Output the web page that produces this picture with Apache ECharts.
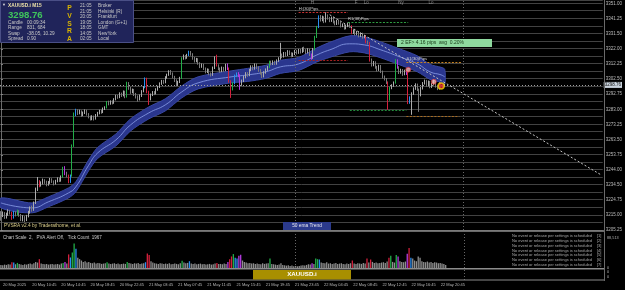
<!DOCTYPE html>
<html>
<head>
<meta charset="utf-8">
<script src="https://cdn.jsdelivr.net/npm/echarts@6/dist/echarts.min.js"></script>
<style>
  html, body { margin: 0; padding: 0; background: #000; }
  #chart { width: 625px; height: 290px; }
</style>
</head>
<body>
<div id="chart"></div>
<script>
// time axis labels, one every 16 bars (M15)
const timeLabels = ["20 May 2025", "20 May 10:45", "20 May 14:45", "20 May 18:45", "20 May 22:45",
  "21 May 03:45", "21 May 07:45", "21 May 11:45", "21 May 15:45", "21 May 19:45", "21 May 23:45",
  "22 May 04:45", "22 May 08:45", "22 May 12:45", "22 May 16:45", "22 May 20:45"];
const priceTicks = [3205.25, 3215.00, 3224.75, 3234.50, 3244.00, 3253.75, 3263.50, 3273.25,
  3283.00, 3292.75, 3302.50, 3312.25, 3322.00, 3331.50, 3341.25, 3351.00];
const lastPrice = 3298.76;

const open = [3216.0,3214.5,3216.0,3213.8,3215.2,3217.0,3216.4,3213.2,3216.8,3215.2,
  3217.6,3215.0,3212.8,3213.6,3211.9,3214.2,3216.8,3219.5,3218.4,3222.8,
  3231.5,3236.6,3234.0,3235.5,3237.2,3236.1,3234.6,3235.8,3237.9,3236.5,
  3235.2,3236.8,3238.4,3237.0,3239.6,3245.2,3241.6,3240.4,3236.4,3240.2,
  3259.6,3279.8,3282.4,3280.6,3281.8,3279.4,3280.8,3282.2,3280.0,3278.2,
  3276.8,3278.4,3277.0,3279.2,3280.6,3282.0,3281.2,3283.4,3284.2,3287.6,
  3286.8,3288.0,3287.2,3289.4,3291.6,3290.8,3293.2,3292.0,3294.4,3291.4,
  3300.0,3296.8,3294.2,3295.6,3292.8,3291.2,3289.4,3291.8,3294.6,3297.2,
  3302.8,3294.4,3289.8,3292.4,3294.0,3293.2,3295.8,3297.4,3299.6,3301.2,
  3300.4,3303.6,3305.2,3307.4,3306.2,3304.0,3301.8,3299.2,3300.6,3303.2,
  3315.8,3317.4,3316.2,3318.0,3320.0,3318.6,3316.0,3314.2,3315.4,3312.8,
  3310.6,3311.8,3309.4,3307.2,3308.6,3306.0,3305.2,3309.8,3316.4,3311.4,
  3309.2,3307.6,3309.8,3308.2,3311.6,3309.4,3301.2,3296.0,3299.8,3304.6,
  3306.0,3305.0,3299.0,3301.4,3303.8,3306.2,3305.0,3308.4,3310.6,3309.2,
  3311.8,3310.0,3308.2,3306.4,3304.2,3306.8,3308.6,3310.2,3313.6,3312.4,
  3313.8,3312.6,3314.4,3315.8,3318.2,3317.0,3319.2,3318.0,3320.4,3319.0,
  3317.6,3318.8,3320.6,3319.4,3321.2,3320.0,3322.2,3321.0,3319.6,3321.6,
  3318.4,3316.2,3321.8,3329.6,3336.0,3342.8,3340.6,3342.4,3339.6,3343.2,
  3341.8,3340.2,3342.0,3339.4,3338.2,3340.0,3338.6,3336.8,3337.6,3335.4,
  3336.8,3338.2,3336.6,3332.4,3333.8,3331.6,3332.8,3330.4,3331.8,3329.6,
  3330.2,3326.6,3325.8,3315.0,3311.8,3313.4,3310.2,3308.6,3311.0,3307.4,
  3304.0,3302.6,3300.4,3289.4,3296.8,3298.4,3300.2,3314.6,3310.2,3306.8,
  3308.4,3305.6,3307.8,3306.2,3287.4,3290.6,3293.2,3296.4,3299.0,3295.8,
  3292.2,3296.6,3299.8,3301.4,3298.6,3300.8,3297.6,3299.2,3301.6,3298.0,
  3296.4,3299.6,3297.8,3298.2];
const close = [3214.5,3216.0,3213.8,3215.2,3217.0,3216.4,3213.2,3216.8,3215.2,3217.6,
  3215.0,3212.8,3213.6,3211.9,3214.2,3216.8,3219.5,3218.4,3222.8,3231.5,
  3236.6,3234.0,3235.5,3237.2,3236.1,3234.6,3235.8,3237.9,3236.5,3235.2,
  3236.8,3238.4,3237.0,3239.6,3245.2,3241.6,3240.4,3236.4,3240.2,3259.6,
  3279.8,3282.4,3280.6,3281.8,3279.4,3280.8,3282.2,3280.0,3278.2,3276.8,
  3278.4,3277.0,3279.2,3280.6,3282.0,3281.2,3283.4,3284.2,3287.6,3286.8,
  3288.0,3287.2,3289.4,3291.6,3290.8,3293.2,3292.0,3294.4,3291.4,3300.0,
  3296.8,3294.2,3295.6,3292.8,3291.2,3289.4,3291.8,3294.6,3297.2,3302.8,
  3294.4,3289.8,3292.4,3294.0,3293.2,3295.8,3297.4,3299.6,3301.2,3300.4,
  3303.6,3305.2,3307.4,3306.2,3304.0,3301.8,3299.2,3300.6,3303.2,3315.8,
  3317.4,3316.2,3318.0,3320.0,3318.6,3316.0,3314.2,3315.4,3312.8,3310.6,
  3311.8,3309.4,3307.2,3308.6,3306.0,3305.2,3309.8,3316.4,3311.4,3309.2,
  3307.6,3309.8,3308.2,3311.6,3309.4,3301.2,3296.0,3299.8,3304.6,3306.0,
  3305.0,3299.0,3301.4,3303.8,3306.2,3305.0,3308.4,3310.6,3309.2,3311.8,
  3310.0,3308.2,3306.4,3304.2,3306.8,3308.6,3310.2,3313.6,3312.4,3313.8,
  3312.6,3314.4,3315.8,3318.2,3317.0,3319.2,3318.0,3320.4,3319.0,3317.6,
  3318.8,3320.6,3319.4,3321.2,3320.0,3322.2,3321.0,3319.6,3321.6,3318.4,
  3316.2,3321.8,3329.6,3336.0,3342.8,3340.6,3342.4,3339.6,3343.2,3341.8,
  3340.2,3342.0,3339.4,3338.2,3340.0,3338.6,3336.8,3337.6,3335.4,3336.8,
  3338.2,3336.6,3332.4,3333.8,3331.6,3332.8,3330.4,3331.8,3329.6,3330.2,
  3326.6,3325.8,3315.0,3311.8,3313.4,3310.2,3308.6,3311.0,3307.4,3304.0,
  3302.6,3300.4,3289.4,3296.8,3298.4,3300.2,3314.6,3310.2,3306.8,3308.4,
  3305.6,3307.8,3306.2,3287.4,3290.6,3293.2,3296.4,3299.0,3295.8,3292.2,
  3296.6,3299.8,3301.4,3298.6,3300.8,3297.6,3299.2,3301.6,3298.0,3296.4,
  3299.6,3297.8,3298.2,3298.76];
const low = [3211.2,3213.6,3212.4,3212.6,3214.4,3215.2,3211.8,3212.6,3214.0,3214.6,
  3213.8,3211.0,3210.8,3210.4,3211.0,3213.4,3215.8,3217.0,3217.6,3222.0,
  3230.4,3232.8,3233.2,3234.6,3235.0,3233.4,3233.8,3235.0,3235.6,3234.0,
  3234.6,3236.0,3236.2,3236.4,3239.0,3240.6,3239.2,3235.4,3235.6,3239.6,
  3258.8,3278.6,3279.4,3279.8,3278.2,3278.6,3280.0,3279.0,3277.2,3275.8,
  3276.0,3275.8,3276.4,3278.4,3279.8,3280.2,3280.6,3282.6,3283.6,3285.6,
  3286.0,3286.2,3286.6,3288.8,3289.8,3290.2,3291.0,3291.4,3290.2,3290.6,
  3295.6,3293.0,3293.4,3291.6,3290.0,3288.0,3288.8,3291.0,3294.0,3296.6,
  3293.4,3285.9,3288.8,3291.6,3292.2,3292.6,3295.0,3296.8,3298.8,3299.4,
  3299.8,3302.8,3304.6,3305.2,3303.0,3300.6,3298.0,3298.6,3300.0,3302.6,
  3315.0,3315.2,3315.6,3317.4,3317.6,3315.0,3313.2,3313.4,3311.8,3309.6,
  3309.8,3308.4,3306.2,3306.4,3305.0,3304.2,3304.6,3309.0,3310.6,3308.2,
  3306.6,3307.0,3307.2,3307.6,3308.4,3300.2,3290.4,3295.2,3299.2,3303.8,
  3303.8,3295.6,3298.2,3300.6,3303.0,3304.0,3304.4,3307.6,3308.2,3308.6,
  3309.0,3307.2,3305.4,3303.2,3303.6,3306.0,3307.8,3309.6,3311.4,3311.6,
  3311.6,3311.8,3313.6,3315.0,3316.0,3316.4,3317.0,3317.4,3318.0,3316.6,
  3316.8,3318.0,3318.4,3318.8,3319.0,3319.4,3320.0,3318.6,3319.0,3317.4,
  3315.0,3315.6,3321.0,3329.0,3335.4,3339.6,3339.8,3338.6,3339.0,3340.8,
  3339.2,3339.4,3338.4,3337.2,3337.4,3337.6,3335.8,3336.0,3334.4,3334.6,
  3336.0,3335.6,3331.4,3331.6,3330.6,3330.8,3329.4,3329.6,3328.6,3328.8,
  3325.6,3324.8,3313.8,3310.6,3310.8,3309.2,3307.4,3307.8,3306.4,3303.0,
  3301.6,3299.4,3282.7,3288.6,3296.0,3297.6,3299.6,3309.2,3305.8,3306.0,
  3304.6,3305.0,3305.2,3286.4,3286.6,3279.5,3292.4,3295.6,3294.8,3281.4,
  3291.4,3295.8,3299.0,3297.6,3297.8,3296.6,3296.8,3298.4,3297.0,3295.4,
  3295.8,3296.8,3297.0,3297.6];
const high = [3217.4,3217.2,3216.8,3216.4,3218.6,3218.2,3217.0,3217.6,3217.4,3218.4,
  3218.0,3215.6,3214.8,3214.2,3215.0,3217.6,3220.4,3221.0,3223.6,3232.6,
  3239.4,3237.4,3236.6,3238.4,3238.0,3237.0,3236.8,3238.8,3238.6,3237.2,
  3237.6,3239.2,3239.0,3240.4,3246.0,3246.4,3242.8,3241.0,3241.0,3260.4,
  3281.0,3283.4,3283.0,3282.8,3282.4,3281.6,3283.0,3282.8,3280.6,3279.0,
  3279.2,3279.0,3280.0,3281.4,3282.8,3282.8,3284.2,3285.0,3288.4,3288.6,
  3288.8,3288.8,3290.2,3292.4,3292.4,3294.0,3293.8,3295.2,3295.0,3300.8,
  3300.6,3297.4,3296.4,3296.2,3293.6,3292.0,3292.6,3295.4,3298.0,3303.6,
  3303.4,3295.0,3293.2,3294.8,3294.8,3296.6,3298.2,3300.4,3302.0,3302.0,
  3304.4,3306.0,3308.2,3308.4,3306.8,3304.6,3302.4,3301.4,3304.0,3316.6,
  3318.4,3318.0,3318.8,3320.8,3320.6,3319.2,3316.8,3316.2,3316.0,3313.4,
  3312.6,3312.4,3310.0,3309.4,3309.2,3306.8,3310.6,3317.2,3318.2,3312.0,
  3310.0,3310.6,3310.4,3312.4,3312.6,3310.0,3301.8,3300.6,3305.4,3306.8,
  3307.0,3305.6,3302.2,3304.6,3307.0,3307.0,3309.2,3311.4,3311.4,3312.6,
  3312.6,3310.8,3309.0,3307.0,3307.6,3309.4,3311.0,3314.4,3314.4,3314.6,
  3314.4,3315.2,3316.6,3325.9,3319.0,3320.0,3320.0,3321.2,3321.0,3319.8,
  3319.6,3321.4,3321.4,3322.0,3322.0,3323.0,3323.4,3321.8,3322.4,3322.2,
  3319.0,3322.6,3330.4,3336.8,3343.6,3343.8,3343.4,3343.0,3345.6,3344.2,
  3342.6,3342.8,3342.6,3340.2,3340.8,3340.8,3339.4,3338.4,3338.2,3337.6,
  3339.0,3339.0,3337.2,3334.6,3334.4,3333.6,3333.4,3332.6,3332.4,3331.0,
  3330.8,3327.4,3326.4,3315.8,3314.2,3314.0,3311.0,3311.8,3311.6,3308.0,
  3304.8,3303.2,3301.0,3297.6,3299.2,3301.0,3315.4,3315.2,3310.8,3309.2,
  3309.0,3308.6,3308.4,3308.0,3291.4,3294.0,3297.2,3299.8,3299.6,3296.4,
  3297.4,3300.6,3302.2,3302.0,3301.6,3301.4,3300.0,3302.4,3302.2,3298.6,
  3300.4,3300.2,3299.0,3299.4];
const volume = [9000,8000,10000,9000,11000,10000,17000,16000,11000,15000,
  12000,10000,9000,11000,10000,12000,13000,11000,14000,18000,
  16000,26000,13000,12000,11000,12000,10000,11000,12000,10000,
  11000,12000,10000,13000,15000,18000,13000,40000,31000,46000,
  72000,57000,30000,26000,22000,18000,20000,16000,18000,15000,
  14000,16000,13000,15000,14000,12000,13000,14000,17000,13000,
  12000,13000,14000,12000,13000,11000,12000,13000,12000,18000,
  15000,13000,12000,14000,13000,15000,12000,13000,14000,17000,
  43000,38000,20000,16000,14000,13000,12000,14000,13000,12000,
  13000,12000,14000,11000,12000,13000,12000,11000,14000,21000,
  16000,14000,15000,20000,13000,12000,13000,11000,12000,13000,
  11000,12000,10000,11000,12000,10000,11000,13000,15000,12000,
  12000,11000,13000,12000,18000,26000,34000,41000,30000,28000,
  36000,39000,22000,18000,16000,14000,15000,13000,14000,12000,
  13000,12000,11000,14000,12000,13000,14000,28000,12000,11000,
  10000,9000,10000,14000,9000,8000,7000,8000,6000,7000,
  5000,6000,5000,6000,7000,8000,7000,9000,11000,10000,
  14000,12000,28000,26000,25000,16000,15000,14000,17000,13000,
  14000,12000,13000,15000,12000,13000,14000,12000,11000,13000,
  12000,14000,22000,13000,12000,14000,13000,12000,15000,13000,
  28000,16000,25000,18000,15000,16000,14000,15000,16000,17000,
  15000,19000,30000,36000,18000,16000,38000,34000,20000,18000,
  17000,19000,42000,59000,30000,28000,22000,20000,34000,30000,
  20000,18000,17000,19000,16000,18000,15000,17000,16000,14000,
  15000,13000,12000,9000];
const volumeTicks = [0, 88513];

// PVSRA bar classes
const greenBars = [9, 34, 39, 40, 58, 69, 99, 127, 147, 172, 173, 213, 216];
const redBars = [6, 21, 37, 80, 81, 118, 125, 126, 192, 200, 202, 212, 223];
const blueBars = [7, 38, 41, 79, 103, 128, 129, 174, 224];
const purpleBars = [35, 124, 130, 131, 170, 217, 222];

// 50 ema trend band
const emaIdx = [0, 17, 26, 37, 41, 48, 53, 63, 71, 81, 90, 99, 108, 126, 135, 145, 153, 163, 173, 180, 191, 199, 208, 217, 228, 235, 241, 243];
const emaUp = [3225.9,3222.7,3226.6,3232.4,3236.3,3250.4,3258.5,3267.2,3276.9,3284.6,3289.8,3298.1,3304.0,3307.8,3309.4,3311.4,3314.6,3316.5,3322.6,3326.2,3330.4,3329.7,3326.5,3322.6,3317.5,3312.0,3310.1,3308.8];
const emaLo = [3219.5,3216.3,3220.2,3225.9,3229.8,3243.4,3251.4,3259.5,3269.1,3276.9,3282.0,3290.4,3296.2,3300.1,3301.0,3303.0,3306.2,3308.1,3313.6,3316.5,3320.1,3319.4,3316.2,3312.3,3307.2,3302.3,3300.4,3299.1];

// trend line from the high
const trendIdx = [180, 329];
const trendPrice = [3344.0, 3240.5];

// level lines
const levelFrom = [163, 190, 163, 222, 191, 222];
const levelTo = [190, 223, 190, 252, 222, 251];
const levelPrice = [3345.8, 3339.4, 3314.9, 3313.6, 3282.7, 3278.8];
const levelText = ["H:(30)Pips", "R1(38)Pips", "", "S1(30)Pips", "", ""];

// alert markers
const pinkIdx = [223, 237];
const pinkPrice = [3308.6, 3300.8];
const alertIdx = [241];
const alertPrice = [3298.0];

// session marks on top
const sessionIdx = [170.5, 194.5, 200, 219, 235.5];
const sessionText = ["H", "F", "Lo", "Ny", "Lo"];

// day separators
const daySep = [161, 253];

const infoRows = [["Candle", "00:09:34"], ["Range", "831, 684"], ["Swap", "-38.05, 10.29"], ["Spread", "0.90"]];
const clockTimes = ["21:05", "21:05", "20:05", "19:05", "18:05", "14:05", "02:05"];
const clockNames = ["Broker", "Helsinki (R)", "Frankfurt", "London (G+1)", "GMT", "NewYork", "Local"];
const eventText = "No event or release per settings is scheduled";

const nCat = 330;
const FF = "Liberation Sans, Arial, sans-serif";
const PV = { green: "#22ae48", red: "#d4203c", blue: "#2a8ff0", purple: "#b43ce0" };
const levelColors = ["#c83232", "#2f9e42", "#a82020", "#c88420", "#248a3c", "#a86c20"];

function kindColor(i) {
  if (greenBars.includes(i)) return PV.green;
  if (redBars.includes(i)) return PV.red;
  if (blueBars.includes(i)) return PV.blue;
  if (purpleBars.includes(i)) return PV.purple;
  return null;
}

const cats = Array.from({ length: nCat }, (_, i) => String(i));

const candleData = open.map((o, i) => {
  const c = kindColor(i);
  const item = { value: [o, close[i], low[i], high[i]] };
  if (c) item.itemStyle = { color: c, color0: c, borderColor: c, borderColor0: c };
  return item;
});
const volumeData = volume.map((v, i) => ({ value: v, itemStyle: { color: kindColor(i) || "#8e8e8e" } }));

const sepLine = { symbol: ["none", "none"], silent: true, animation: false,
  lineStyle: { color: "#666666", type: [1, 2], width: 1 }, label: { show: false },
  data: daySep.map(x => ({ xAxis: x })) };

const chart = echarts.init(document.getElementById("chart"));

const graphics = [];
function txt(x, y, s, size, color, extra) {
  graphics.push({ type: "text", x: x, y: y, z: 100, silent: true,
    style: Object.assign({ text: s, fill: color, fontSize: size, fontFamily: FF }, extra || {}) });
}
function rect(x, y, w, h, fill, stroke) {
  graphics.push({ type: "rect", z: 99, silent: true, shape: { x: x, y: y, width: w, height: h },
    style: { fill: fill, stroke: stroke || null, lineWidth: 1 } });
}
function hline(x1, x2, y, color, w) {
  graphics.push({ type: "line", z: 98, silent: true, shape: { x1: x1, y1: y, x2: x2, y2: y },
    style: { stroke: color, lineWidth: w } });
}

// window separators
hline(0, 605, 231, "#8c8c8c", 1.5);
hline(0, 605, 268.7, "#8c8c8c", 1.5);
hline(0, 605, 280, "#8c8c8c", 1);
graphics.push({ type: "line", z: 98, silent: true, shape: { x1: 604.5, y1: 0, x2: 604.5, y2: 281 },
  style: { stroke: "#6a6a6a", lineWidth: 1 } });

// info panel
rect(0.5, 0.5, 133, 42, "#20245a", "#4a4f86");
txt(2, 3.2, "▼", 4, "#d8d8d8");
txt(8, 3, "XAUUSD.i M15", 4.8, "#ece2a8", { fontWeight: "bold" });
txt(8, 10.5, "3298.76", 9.6, "#3fc65c", { fontWeight: "bold" });
infoRows.forEach((r, k) => {
  txt(8, 20.5 + k * 5.2, r[0], 4.7, "#c8c8c8");
  txt(27, 20.5 + k * 5.2, r[1], 4.7, "#c8c8c8");
});
"PVSRA".split("").forEach((ch, k) => {
  txt(69.5, 5 + k * 7.6, ch, 6.8, "#d9b400", { fontWeight: "bold", align: "center" });
});
clockTimes.forEach((t, k) => {
  txt(80, 3.4 + k * 5.55, t, 4.7, "#c8c8c8");
  txt(98, 3.4 + k * 5.55, clockNames[k], 4.7, "#c8c8c8");
});

// notes in main window
rect(397, 39, 95, 8, "#8fda9f");
txt(401, 40.6, "2 EF> 4.16 pips  avg  0.20%", 5, "#163816");
txt(4, 223.3, "PVSRA v2.4 by Traderathome, et al.", 4.8, "#dccf8c");
rect(283, 222, 48, 8, "#2b3a8c");
txt(307, 223.4, "50 ema Trend", 4.8, "#e8e8f0", { align: "center" });

// volume window notes
txt(3, 234.8, "Chart Scale  2,   PVA Alert Off,   Tick Count  1967", 4.5, "#cccccc");
for (let k = 0; k < 7; k++) {
  txt(592, 234.2 + k * 4.77, eventText, 4, "#a8a8a8", { align: "right" });
  txt(597, 234.2 + k * 4.77, "[" + (k + 1) + "]", 4, "#a8a8a8");
}
txt(607, 270.2, "0", 3.8, "#b0b0b0");
txt(607, 274.6, "0", 3.8, "#b0b0b0");

// symbol box
rect(253, 270, 98, 9.5, "#a88f00");
txt(302, 271.4, "XAUUSD.i", 6.2, "#ffffff", { align: "center", fontWeight: "bold" });

const option = {
  backgroundColor: "#000000",
  animation: false,
  graphic: graphics,
  grid: [
    { left: 0, right: 21, top: 0, height: 230 },
    { left: 0, right: 21, top: 232, height: 36 },
    { left: 0, right: 21, top: 269, height: 11 }
  ],
  xAxis: [
    { type: "category", gridIndex: 0, data: cats, boundaryGap: true, show: false },
    { type: "value", gridIndex: 0, min: -0.5, max: nCat - 0.5, show: false },
    { type: "category", gridIndex: 1, data: cats, boundaryGap: true, show: false },
    { type: "category", gridIndex: 2, data: cats, boundaryGap: true,
      axisLine: { show: false }, axisTick: { show: false }, splitLine: { show: false },
      axisLabel: { interval: 0, align: "left", margin: 3, fontSize: 4, color: "#b8b8b8", fontFamily: FF,
        formatter: (v, i) => (i % 16 === 0 && timeLabels[i / 16]) || "" } }
  ],
  yAxis: [
    { type: "value", gridIndex: 0, position: "right", min: 3205.25, max: 3353.5, scale: true,
      axisLine: { show: true, lineStyle: { color: "#6a6a6a" } },
      axisTick: { show: true, length: 2, customValues: priceTicks, lineStyle: { color: "#8a8a8a" } },
      axisLabel: { customValues: priceTicks, margin: 3, fontSize: 4.5, color: "#bcbcbc", fontFamily: FF,
        formatter: v => v.toFixed(2) },
      splitLine: { show: false } },
    { type: "value", gridIndex: 0, min: 3205.25, max: 3353.5, interval: 4.875, scale: true,
      axisLine: { show: false }, axisTick: { show: false }, axisLabel: { show: false },
      splitLine: { show: true, lineStyle: { color: "#424242", width: 1 } } },
    { type: "value", gridIndex: 1, position: "right", min: 0, max: 106000,
      axisLine: { show: true, lineStyle: { color: "#6a6a6a" } },
      axisTick: { show: false },
      axisLabel: { customValues: volumeTicks, margin: 3, fontSize: 3.8, color: "#b0b0b0", fontFamily: FF },
      splitLine: { show: false } },
    { type: "value", gridIndex: 2, min: 0, max: 1, show: false }
  ],
  series: [
    { // ema band
      type: "custom", xAxisIndex: 1, yAxisIndex: 0, z: 1, silent: true,
      data: emaIdx.map((x, k) => [x, emaUp[k], emaLo[k]]),
      renderItem: (params, api) => {
        if (params.dataIndex !== 0) return null;
        const top = emaIdx.map((x, k) => api.coord([x, emaUp[k]]));
        const bot = emaIdx.map((x, k) => api.coord([x, emaLo[k]])).reverse();
        return { type: "polygon", shape: { points: top.concat(bot), smooth: 0.3 },
          style: { fill: "#2a368e", stroke: "#3746a2", lineWidth: 1 } };
      }
    },
    { // ema centre line
      type: "line", xAxisIndex: 1, yAxisIndex: 0, z: 2, silent: true, symbol: "none", smooth: true,
      data: emaIdx.map((x, k) => [x, (emaUp[k] + emaLo[k]) / 2]),
      lineStyle: { color: "#8ea2ec", width: 0.8 }
    },
    { // candles
      type: "candlestick", xAxisIndex: 0, yAxisIndex: 0, z: 5, barWidth: 1.3,
      data: candleData,
      itemStyle: { color: "#acacac", color0: "#7a7a7a", borderColor: "#acacac", borderColor0: "#7a7a7a", borderWidth: 1 },
      markLine: {
        symbol: ["none", "none"], silent: true, animation: false,
        data: [
          { yAxis: lastPrice, lineStyle: { color: "#a0a0a0", type: [1, 2], width: 1 },
            label: { show: true, position: "end", distance: 1, formatter: lastPrice.toFixed(2), fontSize: 4.5,
              color: "#101010", backgroundColor: "#c9d3dd", padding: [1, 1, 0, 1], fontFamily: FF } }
        ].concat(daySep.map(x => ({ xAxis: x, lineStyle: { color: "#666666", type: [1, 2], width: 1 }, label: { show: false } })))
      }
    },
    { // trend line and level lines
      type: "line", xAxisIndex: 1, yAxisIndex: 0, z: 6, silent: true, symbol: "none",
      data: trendIdx.map((x, k) => [x, trendPrice[k]]),
      lineStyle: { color: "#c4c4c4", type: [2, 2], width: 1 },
      markLine: {
        symbol: ["none", "none"], silent: true, animation: false,
        data: levelPrice.map((p, k) => [
          { coord: [levelFrom[k], p], lineStyle: { color: levelColors[k], type: [2, 1.5], width: 1 },
            label: { show: !!levelText[k], position: "insideStartTop", distance: [0, 1], formatter: levelText[k],
              fontSize: 4.2, color: "#d0d0d0", fontFamily: FF } },
          { coord: [levelTo[k], p] }
        ])
      }
    },
    { // pink alerts
      type: "scatter", xAxisIndex: 1, yAxisIndex: 0, z: 8, silent: true, symbolSize: 5,
      data: pinkIdx.map((x, k) => [x, pinkPrice[k]]),
      itemStyle: { color: "#f7b8b8", borderColor: "#d82828", borderWidth: 0.8 }
    },
    { // last alert
      type: "scatter", xAxisIndex: 1, yAxisIndex: 0, z: 8, silent: true, symbolSize: 6,
      data: alertIdx.map((x, k) => [x, alertPrice[k]]),
      itemStyle: { color: "#d82020", borderColor: "#f0d000", borderWidth: 1.5 }
    },
    { // session marks
      type: "scatter", xAxisIndex: 1, yAxisIndex: 0, z: 8, silent: true, symbolSize: 0,
      data: sessionIdx.map(x => [x, 3351.4]),
      label: { show: true, position: "inside", fontSize: 4.5, color: "#a8a8a8", fontFamily: FF,
        formatter: p => sessionText[p.dataIndex] }
    },
    { // volume
      type: "bar", xAxisIndex: 2, yAxisIndex: 2, barWidth: 1.3, silent: true,
      data: volumeData,
      markLine: sepLine
    },
    { // empty third window
      type: "line", xAxisIndex: 3, yAxisIndex: 3, symbol: "none", silent: true,
      data: [0.5], lineStyle: { opacity: 0 },
      markLine: sepLine
    }
  ]
};

chart.setOption(option);
</script>
</body>
</html>
